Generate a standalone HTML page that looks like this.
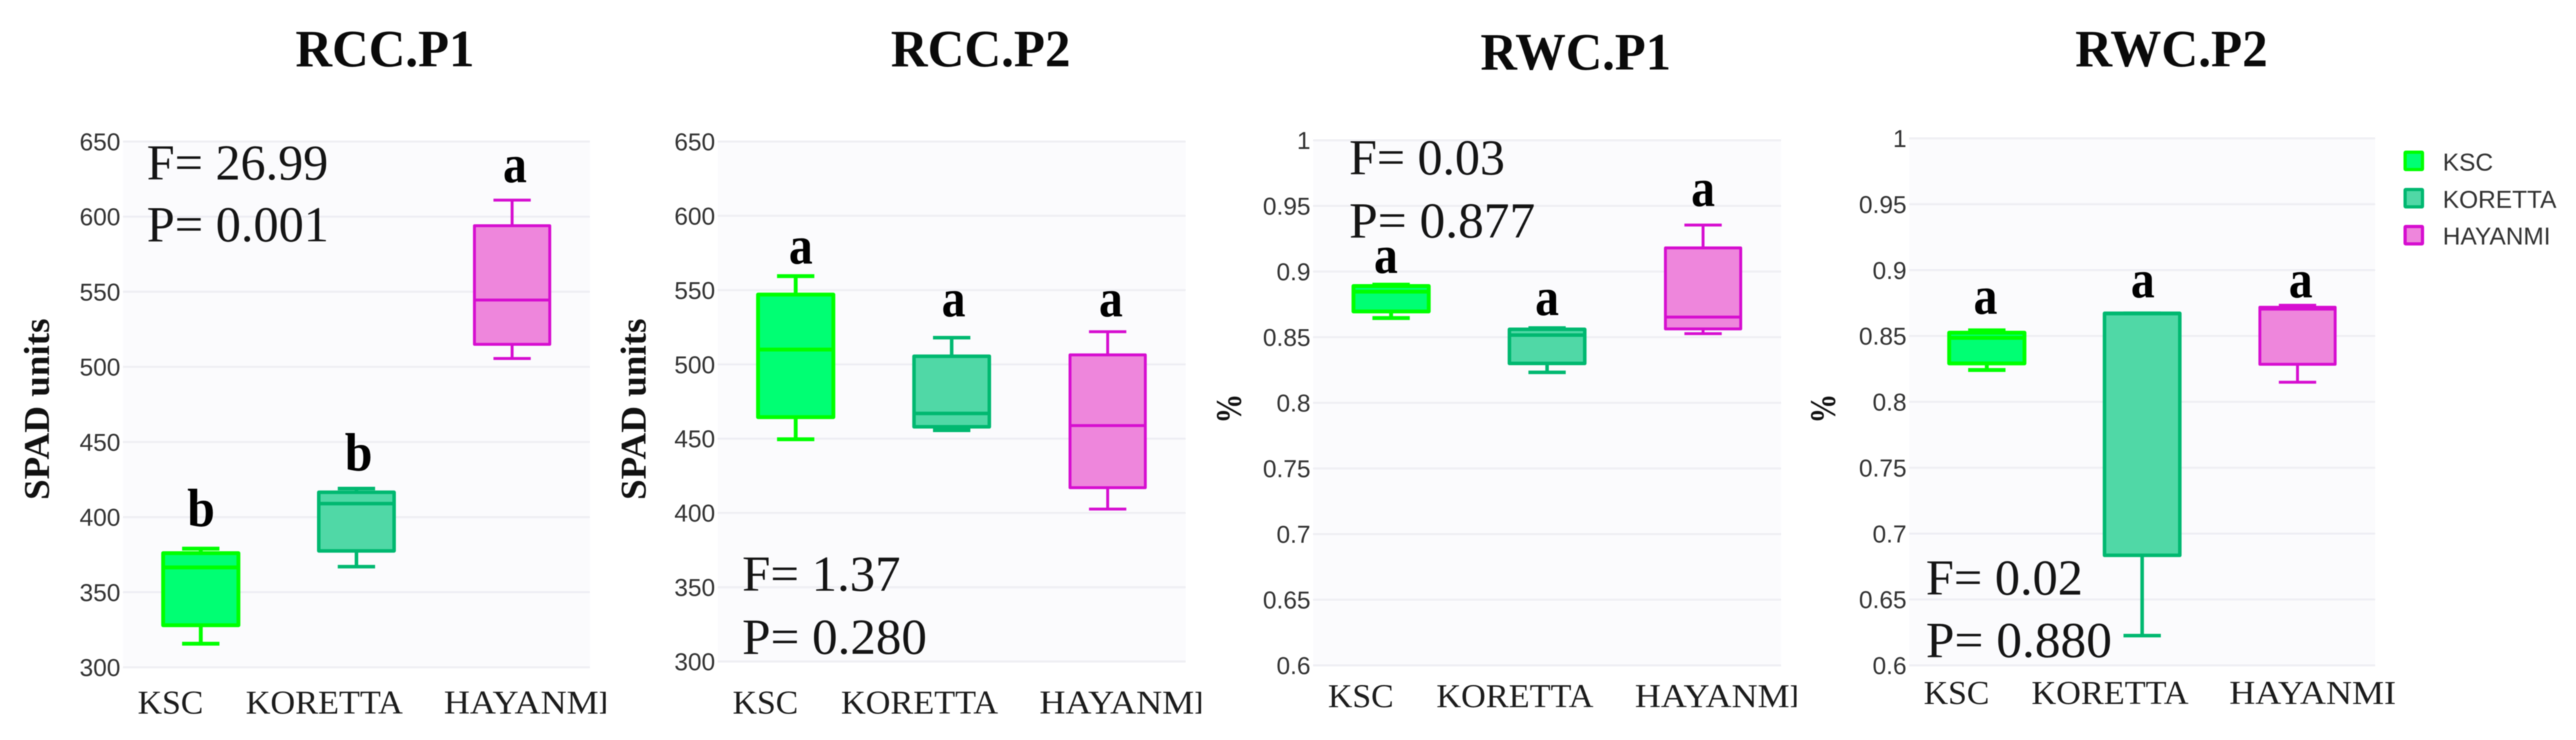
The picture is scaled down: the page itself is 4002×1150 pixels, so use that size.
<!DOCTYPE html>
<html lang="en">
<head>
<meta charset="utf-8">
<title>RCC and RWC box plots</title>
<style>
html,body{margin:0;padding:0;background:#fff;width:4002px;height:1150px;overflow:hidden}
svg{display:block;filter:blur(.7px)}
.title{font:bold 82px "Liberation Serif",serif;fill:#0a0a0a}
.stat{font:78px "Liberation Serif",serif;fill:#141414}
.ytitle{font:bold 56px "Liberation Serif",serif;fill:#111}
.tick{font:38px "Liberation Sans",sans-serif;fill:#333;text-anchor:end}
.cat{font:52px "Liberation Serif",serif;fill:#1c1c1c}
.letter{font:bold 84px "Liberation Serif",serif;fill:#000;text-anchor:middle}
.legtext{font:38px "Liberation Sans",sans-serif;fill:#333}
</style>
</head>
<body>
<svg id="figure" xmlns="http://www.w3.org/2000/svg" width="4002" height="1150" viewBox="0 0 4002 1150">
  <g id="charts"></g>

  <text class="title" x="459" y="103" textLength="278" lengthAdjust="spacingAndGlyphs">RCC.P1</text>
  <text class="title" x="1384" y="103" textLength="279" lengthAdjust="spacingAndGlyphs">RCC.P2</text>
  <text class="title" x="2300" y="108" textLength="296" lengthAdjust="spacingAndGlyphs">RWC.P1</text>
  <text class="title" x="3224" y="103" textLength="299" lengthAdjust="spacingAndGlyphs">RWC.P2</text>

  <text class="stat" x="228" y="279" textLength="282" lengthAdjust="spacingAndGlyphs">F= 26.99</text>
  <text class="stat" x="228" y="375" textLength="283" lengthAdjust="spacingAndGlyphs">P= 0.001</text>
  <text class="stat" x="1153" y="918" textLength="246" lengthAdjust="spacingAndGlyphs">F= 1.37</text>
  <text class="stat" x="1153" y="1016" textLength="287" lengthAdjust="spacingAndGlyphs">P= 0.280</text>
  <text class="stat" x="2096" y="271" textLength="242" lengthAdjust="spacingAndGlyphs">F= 0.03</text>
  <text class="stat" x="2096" y="369" textLength="289" lengthAdjust="spacingAndGlyphs">P= 0.877</text>
  <text class="stat" x="2992" y="924" textLength="244" lengthAdjust="spacingAndGlyphs">F= 0.02</text>
  <text class="stat" x="2992" y="1021" textLength="289" lengthAdjust="spacingAndGlyphs">P= 0.880</text>

  <text class="ytitle" transform="translate(76 777) rotate(-90)" textLength="282" lengthAdjust="spacingAndGlyphs">SPAD units</text>
  <text class="ytitle" transform="translate(1003 777) rotate(-90)" textLength="282" lengthAdjust="spacingAndGlyphs">SPAD units</text>
  <text class="ytitle" transform="translate(1928 658) rotate(-90)" textLength="46" lengthAdjust="spacingAndGlyphs">%</text>
  <text class="ytitle" transform="translate(2851 658) rotate(-90)" textLength="46" lengthAdjust="spacingAndGlyphs">%</text>

  <g>
    <g>
      <rect x="3736.5" y="236.5" width="27" height="27" rx="1" fill="#00ff73" stroke="#00ff00" stroke-width="5"/>
      <text class="legtext" x="3795" y="265">KSC</text>
    </g>
    <g>
      <rect x="3736.5" y="294.5" width="27" height="27" rx="1" fill="#50d8a6" stroke="#00b870" stroke-width="5"/>
      <text class="legtext" x="3795" y="323">KORETTA</text>
    </g>
    <g>
      <rect x="3736.5" y="352" width="27" height="27" rx="1" fill="#ee86dc" stroke="#d60dd0" stroke-width="5"/>
      <text class="legtext" x="3795" y="380">HAYANMI</text>
    </g>
  </g>
</svg>

<script>
const categories = ['KSC', 'KORETTA', 'HAYANMI'];
const spadTicks = [300, 350, 400, 450, 500, 550, 600, 650];
const rwcTicks = [0.6, 0.65, 0.7, 0.75, 0.8, 0.85, 0.9, 0.95, 1];

// Each box: lower whisker, Q1, median, Q3, upper whisker
const rccP1Ksc = [315.7, 328, 366.5, 376, 379];
const rccP1Koretta = [367, 377.5, 409, 416.5, 419];
const rccP1Hayanmi = [505.6, 515, 544.5, 594, 611];

const rccP2Ksc = [449.6, 464.5, 510, 547, 559.4];
const rccP2Koretta = [455.6, 458, 467, 505.5, 518];
const rccP2Hayanmi = [402.6, 417, 458.8, 506.4, 522];

const rwcP1Ksc = [0.8646, 0.8696, 0.8847, 0.889, 0.89];
const rwcP1Koretta = [0.8232, 0.83, 0.8516, 0.856, 0.857];
const rwcP1Hayanmi = [0.8527, 0.8563, 0.8653, 0.918, 0.9354];

const rwcP2Ksc = [0.8242, 0.8292, 0.8486, 0.8525, 0.8543];
const rwcP2Koretta = [0.6226, 0.6835, 0.867, 0.8672, 0.8672];
const rwcP2Hayanmi = [0.8149, 0.8285, 0.8704, 0.8718, 0.8733];

// Significance letters and the axis value their baselines sit on
const rccP1Letters = ['b', 'b', 'a'];
const rccP1LetterLevels = [394, 431, 623];
const rccP2Letters = ['a', 'a', 'a'];
const rccP2LetterLevels = [568, 532.5, 532.5];
const rwcP1Letters = ['a', 'a', 'a'];
const rwcP1LetterLevels = [0.899, 0.867, 0.95];
const rwcP2Letters = ['a', 'a', 'a'];
const rwcP2LetterLevels = [0.8668, 0.8793, 0.8793];

const seriesStyles = [
  { fill: '#00ff73', stroke: '#00ff00', width: 6, slug: 'ksc' },
  { fill: '#50d8a6', stroke: '#00b870', width: 5.5, slug: 'koretta' },
  { fill: '#ee86dc', stroke: '#d60dd0', width: 4.5, slug: 'hayanmi' }
];

const panelConfigs = [
  { slug: 'rcc-p1', left: 191, right: 916.5, top: 220, bottom: 1037, catBase: 1109, clipRight: 941, nudge: [0.5, 3.4, 4.4],
    ticks: spadTicks, boxes: [rccP1Ksc, rccP1Koretta, rccP1Hayanmi], letters: rccP1Letters, levels: rccP1LetterLevels },
  { slug: 'rcc-p2', left: 1115, right: 1842, top: 220, bottom: 1028, catBase: 1109, clipRight: 1866, nudge: [8, 3, 5],
    ticks: spadTicks, boxes: [rccP2Ksc, rccP2Koretta, rccP2Hayanmi], letters: rccP2Letters, levels: rccP2LetterLevels },
  { slug: 'rwc-p1', left: 2040, right: 2767, top: 218, bottom: 1034, catBase: 1099, clipRight: 2791, nudge: [-8, 0, 0],
    ticks: rwcTicks, boxes: [rwcP1Ksc, rwcP1Koretta, rwcP1Hayanmi], letters: rwcP1Letters, levels: rwcP1LetterLevels },
  { slug: 'rwc-p2', left: 2966, right: 3690, top: 215, bottom: 1034, catBase: 1094, clipRight: 4002, nudge: [-2, 1, 5],
    ticks: rwcTicks, boxes: [rwcP2Ksc, rwcP2Koretta, rwcP2Hayanmi], letters: rwcP2Letters, levels: rwcP2LetterLevels }
];

const SVG_NS = 'http://www.w3.org/2000/svg';
const chartsRoot = document.getElementById('charts');

function shape(parent, tag, attrs, text) {
  const el = document.createElementNS(SVG_NS, tag);
  for (const key in attrs) el.setAttribute(key, attrs[key]);
  if (text !== undefined) el.textContent = text;
  parent.appendChild(el);
  return el;
}

function drawPanel(panel) {
  const domainMin = Math.min.apply(null, panel.ticks);
  const domainMax = Math.max.apply(null, panel.ticks);
  const yAxis = v => panel.top + (domainMax - v) / (domainMax - domainMin) * (panel.bottom - panel.top);
  const band = (panel.right - panel.left) / categories.length;
  const xAxis = i => panel.left + band * (i + 0.5);
  const categoryStartOffset = [-98, -172, -106];
  const categoryWidth = [102, 244, 259];
  const letterWidth = { a: 37, b: 43 };

  const group = shape(chartsRoot, 'g', {});
  
  

  const plot = shape(group, 'rect', { x: panel.left, y: panel.top, width: panel.right - panel.left, height: panel.bottom - panel.top, fill: '#fbfbfd' });
  
  

  panel.ticks.forEach(function (t) {
    const y = yAxis(t);
    const grid = shape(group, 'line', { x1: panel.left, x2: panel.right, y1: y, y2: y, stroke: '#eeeef3', 'stroke-width': 3 });
    
    
    const label = shape(group, 'text', { class: 'tick', x: panel.left - 4, y: y + 13.5 }, String(t));
    
    
  });

  const clipId = 'clip-' + panel.slug;
  const clip = shape(group, 'clipPath', { id: clipId });
  shape(clip, 'rect', { x: panel.left - 100, y: 1040, width: panel.clipRight - panel.left + 100, height: 110 });

  const categoryLayer = shape(group, 'g', { 'clip-path': 'url(#' + clipId + ')' });
  
  

  categories.forEach(function (name, i) {
    const label = shape(categoryLayer, 'text', { class: 'cat', x: xAxis(i) + categoryStartOffset[i], y: panel.catBase, textLength: categoryWidth[i], lengthAdjust: 'spacingAndGlyphs' }, name);
    
    
  });

  panel.boxes.forEach(function (values, i) {
    const style = seriesStyles[i];
    const cx = xAxis(i);
    const halfBox = 58.5;
    const halfCap = 29;
    const lower = yAxis(values[0]);
    const q1 = yAxis(values[1]);
    const median = yAxis(values[2]);
    const q3 = yAxis(values[3]);
    const upper = yAxis(values[4]);

    const box = shape(group, 'g', {});
    
    

    const common = { stroke: style.stroke, 'stroke-width': style.width };
    const stemLow = shape(box, 'line', Object.assign({ x1: cx, x2: cx, y1: q1, y2: lower }, common));
    
    
    const stemHigh = shape(box, 'line', Object.assign({ x1: cx, x2: cx, y1: q3, y2: upper }, common));
    
    
    const capLow = shape(box, 'line', Object.assign({ x1: cx - halfCap, x2: cx + halfCap, y1: lower, y2: lower }, common));
    
    
    const capHigh = shape(box, 'line', Object.assign({ x1: cx - halfCap, x2: cx + halfCap, y1: upper, y2: upper }, common));
    
    
    const body = shape(box, 'rect', Object.assign({ x: cx - halfBox, y: q3, width: halfBox * 2, height: q1 - q3, fill: style.fill, 'stroke-linejoin': 'round' }, common));
    
    
    const mid = shape(box, 'line', Object.assign({ x1: cx - halfBox, x2: cx + halfBox, y1: median, y2: median }, common));
    
    

    const symbol = panel.letters[i];
    const letter = shape(group, 'text', { class: 'letter', x: cx + panel.nudge[i], y: yAxis(panel.levels[i]), textLength: letterWidth[symbol], lengthAdjust: 'spacingAndGlyphs' }, symbol);
    
    
  });
}

panelConfigs.forEach(drawPanel);
</script>
</body>
</html>
